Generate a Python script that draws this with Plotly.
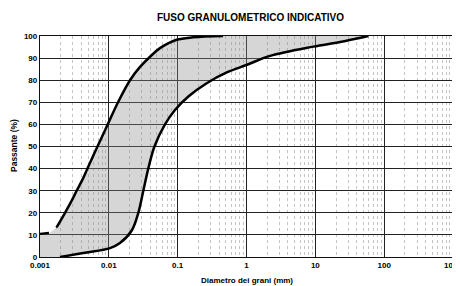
import plotly.graph_objects as go

# Fine boundary (upper / left curve): grain diameter (mm) vs passing (%)
fine_d = [0.001, 0.0014, 0.00175, 0.00231, 0.00289, 0.00341, 0.00414, 0.00489, 0.00684,
          0.00964, 0.0136, 0.0203, 0.0284, 0.0397, 0.0554, 0.0968, 0.167, 0.456]
fine_p = [10.5, 11, 13.5, 20, 25.5, 30, 35, 40, 50, 60, 70, 80, 86, 90.6, 94.5, 98.3, 99.4, 100]

# Coarse boundary (lower / right curve)
coarse_d = [0.00195, 0.00451, 0.0104, 0.0145, 0.0215, 0.0268, 0.0317, 0.0374, 0.0460, 0.0654,
            0.0914, 0.143, 0.264, 0.516, 1.02, 2.20, 9.36, 22.9, 58.9]
coarse_p = [0, 1.9, 4, 6.3, 12, 20, 30, 40, 50, 60, 66.5, 72.6, 78.6, 83.5, 87, 91, 95.2, 97.3, 100]

x_ticks = [0.001, 0.01, 0.1, 1, 10, 100, 1000]
x_labels = ["0.001", "0.01", "0.1", "1", "10", "100", "1000"]
y_ticks = [0, 10, 20, 30, 40, 50, 60, 70, 80, 90, 100]

title = "FUSO GRANULOMETRICO INDICATIVO"
x_title = "Diametro dei grani (mm)"
y_title = "Passante (%)"

FONT = "Liberation Sans, Arial, sans-serif"
OFF = 8  # default page body margin (figure starts at screen x=8, y=8)
W, H = 460 - OFF, 286 - OFF
PL, PR, PT, PB = 40, 453, 36, 257  # plot area in screen pixels
ML, MT = PL - OFF, PT - OFF
MR = (W + OFF) - PR
MB = (H + OFF) - PB
PW, PH = PR - PL, PB - PT


def px_x(px):
    return (px - PL) / PW


def px_y(py):
    return (PB - py) / PH


fig = go.Figure()

# shaded band between the two curves
band_x = fine_d + coarse_d[::-1] + [fine_d[0]]
band_y = fine_p + coarse_p[::-1] + [0]
fig.add_trace(go.Scatter(
    x=band_x, y=band_y, mode="lines", fill="toself",
    fillcolor="rgba(140,140,140,0.36)",
    line=dict(width=0, color="rgba(0,0,0,0)"),
    hoverinfo="skip", showlegend=False,
))

# fine curve: dashed first segment, then solid
fig.add_trace(go.Scatter(
    x=fine_d[:3], y=fine_p[:3], mode="lines",
    line=dict(color="black", width=2.2, dash="dash"), showlegend=False,
))
fig.add_trace(go.Scatter(
    x=fine_d[2:], y=fine_p[2:], mode="lines", line_shape="spline",
    line=dict(color="black", width=2.5), showlegend=False,
))
fig.add_trace(go.Scatter(
    x=coarse_d, y=coarse_p, mode="lines", line_shape="spline",
    line=dict(color="black", width=2.5), showlegend=False,
))

fig.update_layout(
    width=W, height=H,
    margin=dict(l=ML, r=MR, t=MT, b=MB, autoexpand=False),
    paper_bgcolor="white", plot_bgcolor="white",
    font=dict(family=FONT, color="black"),
    showlegend=False,
    annotations=[
        dict(text="<b>" + title + "</b>", x=px_x(250), y=px_y(17), xref="paper", yref="paper",
             xanchor="center", yanchor="middle", showarrow=False, font=dict(size=10, family=FONT)),
        dict(text="<b>" + x_title + "</b>", x=px_x(247), y=px_y(280), xref="paper", yref="paper",
             xanchor="center", yanchor="middle", showarrow=False, font=dict(size=8, family=FONT)),
        dict(text="<b>" + y_title + "</b>", x=px_x(14), y=px_y(145), xref="paper", yref="paper",
             xanchor="center", yanchor="middle", textangle=-90, showarrow=False,
             font=dict(size=8.5, family=FONT)),
    ],
)

fig.update_xaxes(
    type="log", range=[-3, 3], automargin=False,
    tickvals=x_ticks, ticktext=["<b>%s</b>" % t for t in x_labels],
    tickfont=dict(size=8, family=FONT), ticklabeloverflow="allow",
    showgrid=True, gridcolor="#222", gridwidth=1.3,
    minor=dict(dtick="D1", showgrid=True, gridcolor="#c4c4c4", griddash="dot", gridwidth=1),
    showline=True, linecolor="#111", linewidth=1.3, mirror=True,
    ticks="", zeroline=False,
)
fig.update_yaxes(
    range=[0, 100], tickvals=y_ticks, automargin=False,
    ticktext=["<b>%d</b>" % v for v in y_ticks],
    tickfont=dict(size=8, family=FONT),
    showgrid=True, gridcolor="#222", gridwidth=1.3,
    showline=True, linecolor="#111", linewidth=1.3, mirror=True,
    ticks="", zeroline=False,
)

fig.write_html("out.html")
